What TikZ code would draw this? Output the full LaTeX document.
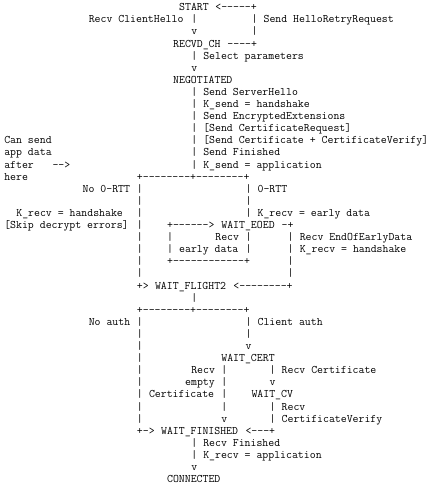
\documentclass[tikz,border=0pt]{standalone}
\usepackage{fontspec}

\begin{document}
\begin{tikzpicture}[x=6.03pt,y=-12.1pt,
    ascii/.style={anchor=base west,inner sep=0pt,font=\ttfamily\fontsize{11.49pt}{12pt}\selectfont},
    state/.style={ascii}]
  \useasboundingbox (0pt,0pt) rectangle (438pt,-488pt);
  \begin{scope}[shift={(-1.9pt,-10.7pt)}]
  % states (column/row of the text grid)
  \node[state] (start)        at (30,0)  {START};
  \node[state] (recvdch)      at (29,3)  {RECVD\_CH};
  \node[state] (negotiated)   at (29,6)  {NEGOTIATED};
  \node[state] (waiteoed)     at (37,18) {WAIT\_EOED};
  \node[state] (waitflight2)  at (26,23) {WAIT\_FLIGHT2};
  \node[state] (waitcert)     at (37,29) {WAIT\_CERT};
  \node[state] (waitcv)       at (42,32) {WAIT\_CV};
  \node[state] (waitfinished) at (27,35) {WAIT\_FINISHED};
  \node[state] (connected)    at (28,39) {CONNECTED};
  % transition labels
  \foreach \c/\r/\t [count=\i] in {
      15/1/{Recv ClientHello}, 44/1/{Send HelloRetryRequest},
      34/4/{Select parameters},
      34/7/{Send ServerHello}, 34/8/{K\_send = handshake},
      34/9/{Send EncryptedExtensions}, 34/10/{[Send CertificateRequest]},
      34/11/{[Send Certificate + CertificateVerify]},
      34/12/{Send Finished}, 34/13/{K\_send = application},
      1/11/{Can send}, 1/12/{app data}, 1/13/{after}, 1/14/{here},
      14/15/{No 0-RTT}, 43/15/{0-RTT},
      3/17/{K\_recv = handshake}, 43/17/{K\_recv = early data},
      1/18/{[Skip decrypt errors]},
      36/19/{Recv}, 30/20/{early data},
      50/19/{Recv EndOfEarlyData}, 50/20/{K\_recv = handshake},
      15/26/{No auth}, 43/26/{Client auth},
      32/30/{Recv}, 31/31/{empty}, 25/32/{Certificate},
      47/30/{Recv Certificate}, 47/33/{Recv}, 47/34/{CertificateVerify},
      34/36/{Recv Finished}, 34/37/{K\_recv = application}}
    \node[ascii] (lbl\i) at (\c,\r) {\t};
  % vertical strokes
  \foreach \c/\r in {32/1,42/1,42/2,32/4,32/7,32/8,32/9,32/10,32/11,32/12,32/13,
      41/15,41/16,41/17,28/19,28/20,41/19,41/20,48/19,48/20,48/21,48/22,
      32/24,41/26,41/27,37/30,37/31,37/32,37/33,45/30,45/33,45/34,32/36,32/37}
    \node[ascii] (bar-\c-\r) at (\c,\r) {|};
  \foreach \r in {15,...,22,26,27,...,34}
    \node[ascii] (left-\r) at (23,\r) {|};
  % arrow heads
  \foreach \c/\r in {32/2,32/5,41/28,45/31,37/34,32/38}
    \node[ascii] (tip-\c-\r) at (\c,\r) {v};
  % horizontal strokes and corners
  \foreach \c/\r/\t [count=\i] in {
      36/0/{<-----+}, 38/3/{----+}, 9/13/{-->},
      23/14/{+--------+--------+},
      28/18/{+------>}, 47/18/{-+}, 28/21/{+------------+},
      23/23/{+>}, 39/23/{<--------+},
      23/25/{+--------+--------+},
      23/35/{+->}, 41/35/{<---+}}
    \node[ascii] (rule\i) at (\c,\r) {\t};
  \end{scope}
\end{tikzpicture}
\end{document}
